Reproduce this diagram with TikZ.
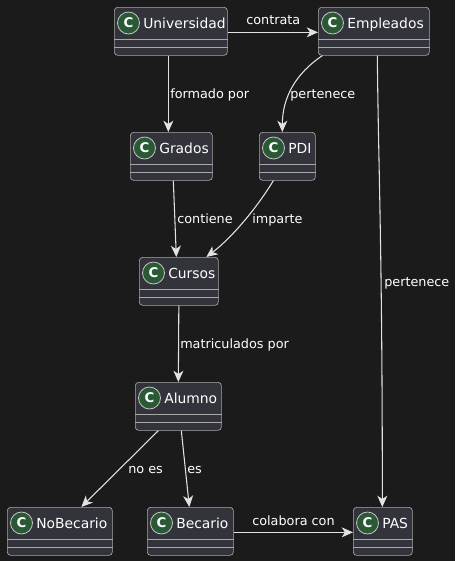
\documentclass[tikz,border=0pt]{standalone}
\usepackage{fontspec}
\setmainfont{DejaVu Sans}
\usetikzlibrary{arrows.meta,calc}
\definecolor{bgc}{HTML}{1B1B1B}
\definecolor{boxc}{HTML}{33333B}
\definecolor{edgec}{HTML}{A8A8A8}
\definecolor{linec}{HTML}{E2E2E2}
\definecolor{circc}{HTML}{2A5A35}
\tikzset{
  x=0.75pt,y=-0.75pt,
  classbox/.style={draw=edgec,fill=boxc,line width=0.5pt,rounded corners=2.5pt,inner sep=0pt,anchor=north west,minimum height=36pt},
  rel/.style={draw=linec,line width=0.8pt,-{Stealth[length=8.5pt,width=7.5pt,inset=2.5pt]}},
  rellabel/.style={text=white,font=\fontsize{9.6}{12}\selectfont,inner sep=0pt,anchor=base west},
  classname/.style={text=white,font=\fontsize{10.4}{13}\selectfont,inner sep=0pt,anchor=base west},
  badge/.style={circle,draw=edgec!70!white,fill=circc,line width=0.6pt,minimum size=16.5pt,inner sep=0pt,text=white,font=\bfseries\fontsize{10}{12}\selectfont},
}
% name, left x, top y, width px, text
\newcommand{\classnode}[5]{%
  \node[classbox,minimum width=#4*0.75pt] (#1) at (#2,#3) {};
  \draw[edgec,line width=0.5pt] ($(#1.north west)+(0,32)$) -- ($(#1.north east)+(0,32)$);
  \draw[edgec,line width=0.5pt] ($(#1.north west)+(0,40)$) -- ($(#1.north east)+(0,40)$);
  \node[badge] (#1c) at ($(#1.north west)+(14.5,16)$) {C};
  \node[classname] (#1t) at ($(#1.north west)+(29,21)$) {#5};
}
\begin{document}
\begin{tikzpicture}
\useasboundingbox[fill=bgc] (0,0) rectangle (455,561);
\classnode{uni}{114}{7}{113}{Universidad}
\classnode{emp}{318}{7}{111}{Empleados}
\classnode{gra}{130}{132}{82}{Grados}
\classnode{pdi}{259}{132}{56}{PDI}
\classnode{cur}{139}{257}{79}{Cursos}
\classnode{alu}{135}{382}{86}{Alumno}
\classnode{nob}{7}{507}{105}{NoBecario}
\classnode{bec}{147}{507}{86}{Becario}
\classnode{pas}{353}{507}{59}{PAS}

\draw[rel] ($(uni.south)+(-2.5,0)$) -- ($(gra.north)+(-3,0)$);
\draw[rel] ($(uni.east)+(0,1)$) -- ($(emp.west)+(0,1)$);
\draw[rel] ($(emp.south)+(-51.5,0)$) .. controls +(-27,18) and ($(pdi.north)+(-5,-34)$) .. ($(pdi.north)+(-5,0)$);
\draw[rel] ($(emp.south)+(3.5,0)$) .. controls +(1,110) and ($(pas.north)+(-0.5,-260)$) .. ($(pas.north)+(-0.5,0)$);
\draw[rel] ($(gra.south)+(2,0)$) -- ($(cur.north)+(-2.5,0)$);
\draw[rel] ($(pdi.south)+(-14,0)$) .. controls +(-15,25) and ($(cur.north)+(54,-20)$) .. ($(cur.north)+(27.5,0)$);
\draw[rel] (cur.south) -- (alu.north);
\draw[rel] ($(alu.south)+(-20,0)$) -- ($(nob.north)+(21.5,0)$);
\draw[rel] ($(alu.south)+(3,0)$) -- ($(bec.north)+(-1,0)$);
\draw[rel] ($(bec.east)+(0,1)$) -- ($(pas.west)+(0,1)$);

\node[rellabel] (l1) at (170,98) {formado por};
\node[rellabel] (l2) at (246,24) {contrata};
\node[rellabel] (l3) at (290,98) {pertenece};
\node[rellabel] (l4) at (384,286) {pertenece};
\node[rellabel] (l5) at (177,223) {contiene};
\node[rellabel] (l6) at (252,223) {imparte};
\node[rellabel] (l7) at (180,348) {matriculados por};
\node[rellabel] (l8) at (128,473) {no es};
\node[rellabel] (l9) at (187,473) {es};
\node[rellabel] (l10) at (252,525) {colabora con};
\end{tikzpicture}
\end{document}
